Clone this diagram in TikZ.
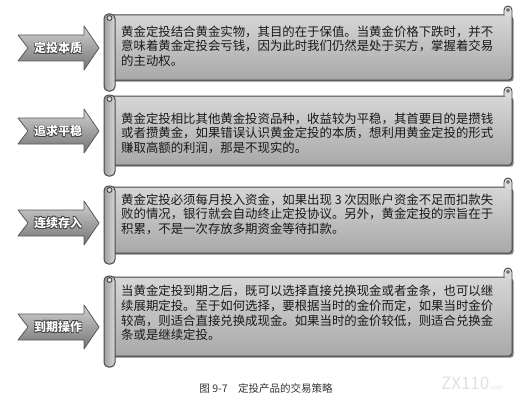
\documentclass[tikz,border=0pt]{standalone}
\usepackage{fontspec}
\setmainfont{Noto Sans CJK SC}
\usetikzlibrary{shadows}
\newcommand\outlinetext[1]{% 白字加深色描边
    \rlap{\color{black!75}\kern-.55pt\raisebox{.55pt}{#1}}%
    \rlap{\color{black!75}\kern.55pt\raisebox{.55pt}{#1}}%
    \rlap{\color{black!75}\kern-.55pt\raisebox{-.55pt}{#1}}%
    \rlap{\color{black!75}\kern.55pt\raisebox{-.55pt}{#1}}%
    \textcolor{white}{#1}}
\tikzset{
    tag arrow/.style={draw=black!65, line width=0.8pt, top color=black!18, bottom color=black!55, line join=round}, % 左侧箭头
    tag text/.style={font=\fontsize{12}{12}\selectfont\bfseries, inner sep=0pt}, % 箭头上的文字
    scroll body/.style={draw=black!72, line width=1pt, rounded corners=3pt, top color=black!16, bottom color=black!34,
        drop shadow={shadow xshift=1.6pt, shadow yshift=-1.6pt, fill=black!70, opacity=0.7}}, % 卷轴主体
    scroll roll/.style={draw=black!72, line width=1pt, rounded corners=4.5pt, left color=black!38, right color=black!15}, % 左侧卷筒
    scroll curl/.style={draw=black!72, line width=0.9pt, fill=black!14}, % 卷角
    body text/.style={anchor=west, inner sep=0pt, align=left, text=black!90, font=\fontsize{12.4}{14.6}\selectfont} % 正文
}
\begin{document}
\begin{tikzpicture}[x=1pt, y=-1pt]
    \useasboundingbox (0,0) rectangle (530,404);

    \foreach \i/\tagname/\cy/\yt/\yb/\ym/\txt in {
        1/定投本质/48/15/80/46/{黄金定投结合黄金实物，其目的在于保值。当黄金价格下跌时，并不\\意味着黄金定投会亏钱，因为此时我们仍然是处于买方，掌握着交易\\的主动权。},
        2/追求平稳/131/96/165/133/{黄金定投相比其他黄金投资品种，收益较为平稳，其首要目的是攒钱\\或者攒黄金，如果错误认识黄金定投的本质，想利用黄金定投的形式\\赚取高额的利润，那是不现实的。},
        3/连续存入/223/187/253/214/{黄金定投必须每月投入资金，如果出现 3 次因账户资金不足而扣款失\\败的情况，银行就会自动终止定投协议。另外，黄金定投的宗旨在于\\积累，不是一次存放多期资金等待扣款。},
        4/到期操作/327/277/356/313/{当黄金定投到期之后，既可以选择直接兑换现金或者金条，也可以继\\续展期定投。至于如何选择，要根据当时的金价而定，如果当时金价\\较高，则适合直接兑换成现金。如果当时的金价较低，则适合兑换金\\条或是继续定投。}} {
        \draw[tag arrow] (18,\cy-13) -- (28,\cy) -- (18,\cy+13) -- (84,\cy+13) -- (84,\cy+22) -- (99,\cy) -- (84,\cy-22) -- (84,\cy-13) -- cycle;
        \node[tag text] (tag\i) at (58,\cy) {\outlinetext{\tagname}};

        \draw[scroll body] (110,\yt) rectangle (512,\yb);
        \draw[scroll roll] (104,\yt-1) rectangle (115,\yb+11);
        \draw[scroll curl] (109.5,\yt+3) circle[radius=2.5];
        \draw[scroll curl] (504,\yt) -- (504,\yt-5) arc[start angle=180, end angle=360, radius=4] -- (512,\yt+3);
        \draw[black!72, line width=0.7pt] (508,\yt-5) circle[radius=1.3];
        \node[body text] (txt\i) at (121,\ym) {\txt};
    }

    \node[text=black!80, font=\fontsize{10.5}{12}\selectfont] (cap) at (266,388) {图 9-7\quad 定投产品的交易策略};
    \node[text=black!12, font=\fontsize{17}{17}\selectfont, inner sep=0pt] (wmark) at (472,383) {ZX110{\fontsize{6}{6}\selectfont .com}};
\end{tikzpicture}
\end{document}
